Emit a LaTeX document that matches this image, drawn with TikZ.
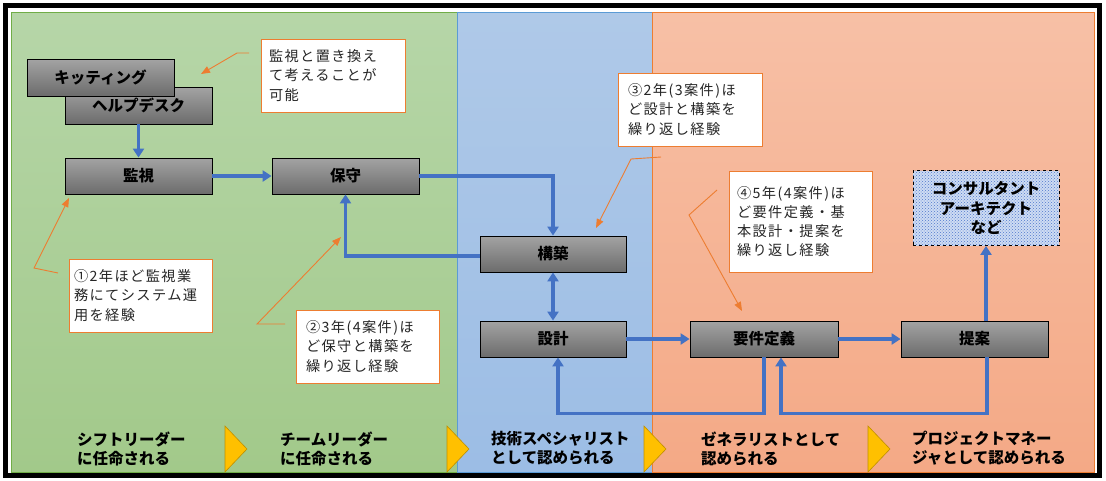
\documentclass[tikz,border=0pt]{standalone}
\usepackage{fontspec}
\setmainfont{Noto Sans CJK JP}
\newfontfamily\cjkcall{Noto Sans CJK JP}[LetterSpace=10]
\usetikzlibrary{arrows.meta,patterns,calc}
\definecolor{greentop}{RGB}{182,214,168}
\definecolor{greenbot}{RGB}{162,201,138}
\definecolor{greenline}{RGB}{112,173,71}
\definecolor{bluetop}{RGB}{175,201,232}
\definecolor{bluebot}{RGB}{156,189,229}
\definecolor{blueline}{RGB}{91,155,213}
\definecolor{orgtop}{RGB}{247,192,166}
\definecolor{orgbot}{RGB}{244,169,134}
\definecolor{orgline}{RGB}{237,125,49}
\definecolor{boxtop}{RGB}{163,163,163}
\definecolor{boxbot}{RGB}{108,108,108}
\definecolor{arrowblue}{RGB}{68,114,196}
\definecolor{chevfill}{RGB}{255,192,0}
\definecolor{chevline}{RGB}{191,144,0}
\definecolor{consfill}{RGB}{206,220,243}
\definecolor{consdot}{RGB}{80,120,205}
\begin{document}
\begin{tikzpicture}[x=1pt,y=-1pt,
  box/.style={draw=black, line width=0.8pt, top color=boxtop, bottom color=boxbot,
    minimum width=147pt, minimum height=36pt, inner sep=0pt,
    font=\fontsize{15.5}{18}\selectfont\bfseries, text=black},
  callout/.style={draw=orgline, fill=white, line width=1pt, align=left,
    inner xsep=8pt, inner ysep=0pt, font=\cjkcall\fontsize{14.2}{19.2}\selectfont, text=black!85},
  bline/.style={draw=arrowblue, line width=3.1pt, -{Triangle[length=9pt,width=11pt]}},
  pointer/.style={draw=orgline, line width=0.9pt, -{Triangle[length=9pt,width=7pt]}},
  stage/.style={anchor=west, align=left, inner sep=0pt,
    font=\fontsize{15.5}{19}\selectfont\bfseries, text=black},
  chevron/.style={fill=chevfill, draw=chevline, line width=0.6pt}
]
\useasboundingbox (0,0) rectangle (1106,480);
\fill[white] (0,0) rectangle (1106,480);
% panels
\shade[top color=greentop, bottom color=greenbot] (11,12) rectangle (457,472);
\draw[greenline, line width=0.8pt] (11,12) rectangle (457,472);
\shade[top color=bluetop, bottom color=bluebot] (457,12) rectangle (652,472);
\draw[blueline, line width=0.8pt] (457,12) rectangle (652,472);
\shade[top color=orgtop, bottom color=orgbot] (652,12) rectangle (1094,472);
\draw[orgline, line width=0.8pt] (652,12) rectangle (1094,472);
% outer frame
\draw[black, line width=5.5pt] (5.5,5.5) rectangle (1099.5,475.5);
% chevrons
\foreach \cx in {225,447,644,868}
  \draw[chevron] (\cx,426) -- (\cx+22,449) -- (\cx,472) -- cycle;
% stage labels
\node[stage] (s1) at (77,448.5) {シフトリーダー\\に任命される};
\node[stage] (s2) at (280,448.5) {チームリーダー\\に任命される};
\node[stage] (s3) at (491,448.5) {技術スペシャリスト\\として認められる};
\node[stage] (s4) at (701,448.5) {ゼネラリストとして\\認められる};
\node[stage] (s5) at (912,448.5) {プロジェクトマネー\\ジャとして認められる};
% boxes
\node[box, minimum height=37pt] (help) at (138.5,105.5) {ヘルプデスク};
\node[box, minimum height=37pt] (kit) at (100.5,77.5) {キッティング};
\node[box] (kanshi) at (138.5,176) {監視};
\node[box] (hoshu) at (345.5,176) {保守};
\node[box, minimum width=146pt] (kouchiku) at (553,254) {構築};
\node[box, minimum width=146pt] (sekkei) at (553,339) {設計};
\node[box, minimum width=148pt] (youken) at (764,339) {要件定義};
\node[box] (teian) at (974.5,339) {提案};
\node[draw=black, dashed, line width=0.8pt, minimum width=146pt, minimum height=75pt,
  preaction={fill=consfill}, pattern=crosshatch dots, pattern color=consdot,
  align=center, inner sep=0pt, font=\fontsize{15.5}{19.5}\selectfont\bfseries]
  (consul) at (986,208) {コンサルタント\\アーキテクト\\など};
% blue connectors
\draw[bline] (help.south) -- (kanshi.north);
\draw[bline] (kanshi.east) -- (hoshu.west);
\draw[bline] (hoshu.east) -| (kouchiku.north);
\draw[bline] ([yshift=-2]kouchiku.west) -| (hoshu.south);
\draw[bline, {Triangle[length=9pt,width=11pt]}-{Triangle[length=9pt,width=11pt]}] (sekkei.north) -- (kouchiku.south);
\draw[bline] (sekkei.east) -- (youken.west);
\draw[bline] (youken.east) -- (teian.west);
\draw[bline] (youken.south) -- ++(0,56) -| ([xshift=5]sekkei.south);
\draw[bline] ([xshift=12.5]teian.south) -- ++(0,56) -| ([xshift=17]youken.south);
\draw[bline] (consul.south |- teian.north) -- (consul.south);
% callouts
\node[callout, text width=128pt, minimum height=73pt] (c0) at (333,75.5)
  {監視と置き換え\\て考えることが\\可能};
\node[callout, text width=133pt, inner xsep=5pt, minimum height=73pt] (c1) at (140.5,295.5)
  {①2年ほど監視業\\務にてシステム運\\用を経験};
\node[callout, text width=123pt, inner xsep=10pt, minimum height=73pt] (c2) at (367.5,346.5)
  {②3年(4案件)ほ\\ど保守と構築を\\繰り返し経験};
\node[callout, text width=124pt, inner xsep=10pt, minimum height=73pt] (c3) at (690,109.5)
  {③2年(3案件)ほ\\ど設計と構築を\\繰り返し経験};
\node[callout, text width=127pt, minimum height=101pt] (c4) at (800.5,221.5)
  {④5年(4案件)ほ\\ど要件定義・基\\本設計・提案を\\繰り返し経験\\[6pt]};
% pointers
\coordinate (p0a) at (249,53); \coordinate (p0b) at (237,53); \coordinate (p0c) at (201,74);
\coordinate (p1a) at (58,273); \coordinate (p1b) at (34,268); \coordinate (p1c) at (69,198);
\coordinate (p2a) at (285,324); \coordinate (p2b) at (257,324); \coordinate (p2c) at (341,237);
\coordinate (p3a) at (661,157); \coordinate (p3b) at (631,159); \coordinate (p3c) at (596,228);
\coordinate (p4a) at (717,190); \coordinate (p4b) at (689,215); \coordinate (p4c) at (742,311);
\draw[pointer] (p0a) -- (p0b) -- (p0c);
\draw[pointer] (p1a) -- (p1b) -- (p1c);
\draw[pointer] (p2a) -- (p2b) -- (p2c);
\draw[pointer] (p3a) -- (p3b) -- (p3c);
\draw[pointer] (p4a) -- (p4b) -- (p4c);
\end{tikzpicture}
\end{document}
